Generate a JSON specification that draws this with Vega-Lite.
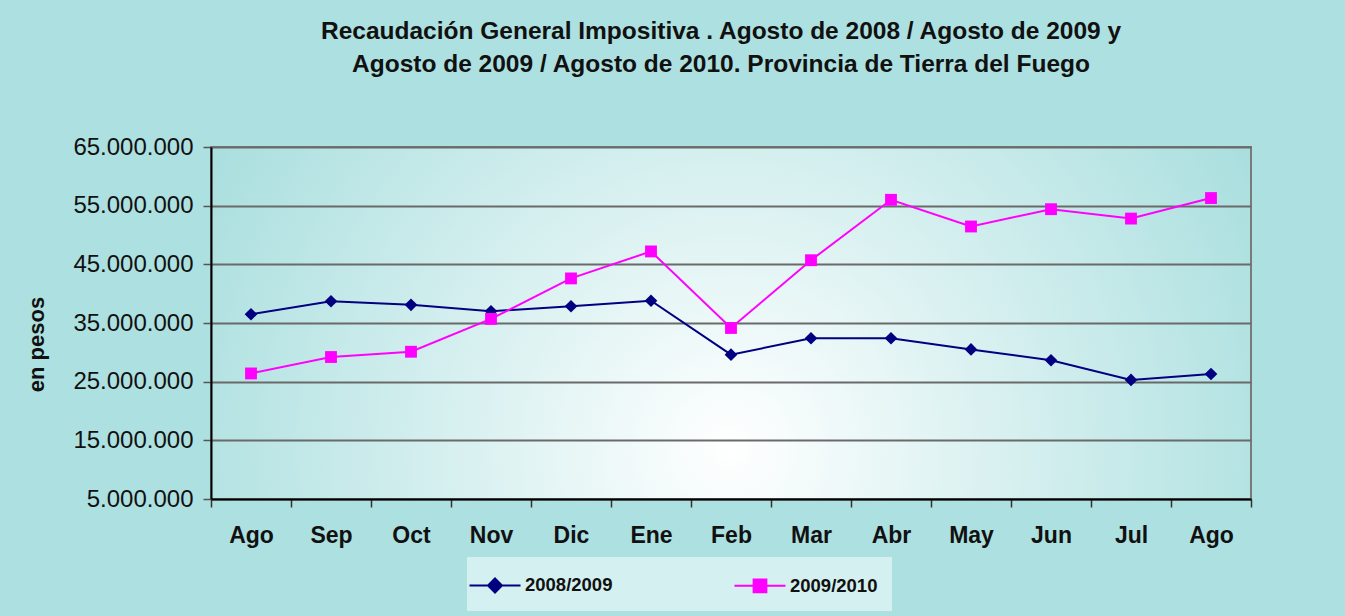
{
  "$schema": "https://vega.github.io/schema/vega-lite/v6.json",
  "autosize": "none",
  "width": 1040,
  "height": 352,
  "padding": {"left": 211, "top": 147, "right": 94, "bottom": 117},
  "background": "#ade0e0",
  "view": {
    "stroke": "#7a7a7a",
    "strokeWidth": 2,
    "fill": {
      "gradient": "radial",
      "x1": 0.5, "y1": 0.62, "r1": 0,
      "x2": 0.5, "y2": 0.62, "r2": 0.62,
      "stops": [
        {"offset": 0, "color": "#ffffff"},
        {"offset": 1, "color": "#a3dcdc"}
      ]
    }
  },
  "title": {
    "text": ["Recaudación General Impositiva . Agosto de 2008 / Agosto de 2009  y", "Agosto de 2009 / Agosto de 2010. Provincia de Tierra del Fuego"],
    "font": "Liberation Sans",
    "fontSize": 24.5,
    "fontWeight": "bold",
    "color": "#111111",
    "lineHeight": 33,
    "anchor": "middle",
    "dx": -10,
    "offset": 58
  },
  "data": {
    "values": [
      {"mes": "01-Ago", "serie": "2008/2009", "valor": 36500000},
      {"mes": "02-Sep", "serie": "2008/2009", "valor": 38700000},
      {"mes": "03-Oct", "serie": "2008/2009", "valor": 38100000},
      {"mes": "04-Nov", "serie": "2008/2009", "valor": 37000000},
      {"mes": "05-Dic", "serie": "2008/2009", "valor": 37850000},
      {"mes": "06-Ene", "serie": "2008/2009", "valor": 38800000},
      {"mes": "07-Feb", "serie": "2008/2009", "valor": 29600000},
      {"mes": "08-Mar", "serie": "2008/2009", "valor": 32400000},
      {"mes": "09-Abr", "serie": "2008/2009", "valor": 32400000},
      {"mes": "10-May", "serie": "2008/2009", "valor": 30500000},
      {"mes": "11-Jun", "serie": "2008/2009", "valor": 28650000},
      {"mes": "12-Jul", "serie": "2008/2009", "valor": 25300000},
      {"mes": "13-Ago", "serie": "2008/2009", "valor": 26300000},
      {"mes": "01-Ago", "serie": "2009/2010", "valor": 26400000},
      {"mes": "02-Sep", "serie": "2009/2010", "valor": 29200000},
      {"mes": "03-Oct", "serie": "2009/2010", "valor": 30100000},
      {"mes": "04-Nov", "serie": "2009/2010", "valor": 35700000},
      {"mes": "05-Dic", "serie": "2009/2010", "valor": 42600000},
      {"mes": "06-Ene", "serie": "2009/2010", "valor": 47200000},
      {"mes": "07-Feb", "serie": "2009/2010", "valor": 34150000},
      {"mes": "08-Mar", "serie": "2009/2010", "valor": 45700000},
      {"mes": "09-Abr", "serie": "2009/2010", "valor": 56000000},
      {"mes": "10-May", "serie": "2009/2010", "valor": 51450000},
      {"mes": "11-Jun", "serie": "2009/2010", "valor": 54400000},
      {"mes": "12-Jul", "serie": "2009/2010", "valor": 52800000},
      {"mes": "13-Ago", "serie": "2009/2010", "valor": 56300000}
    ]
  },
  "encoding": {
    "x": {
      "field": "mes",
      "type": "ordinal",
      "bandPosition": 0.5,
      "scale": {"type": "band", "paddingInner": 0, "paddingOuter": 0},
      "axis": {
        "title": null,
        "labelAngle": 0,
        "labelExpr": "split(datum.value, '-')[1]",
        "labelFont": "Liberation Sans",
        "labelFontSize": 23,
        "labelFontWeight": "bold",
        "labelColor": "#111111",
        "labelPadding": 17,
        "tickBand": "extent",
        "tickSize": 8,
        "tickColor": "#333333",
        "tickWidth": 1.5,
        "domainColor": "#000000",
        "domainWidth": 2,
        "grid": false
      }
    },
    "y": {
      "field": "valor",
      "type": "quantitative",
      "scale": {"domain": [5000000, 65000000], "nice": false, "zero": false},
      "axis": {
        "title": "en pesos",
        "titleFont": "Liberation Sans",
        "titleFontSize": 22,
        "titleFontWeight": "bold",
        "titleColor": "#111111",
        "titlePadding": 24,
        "titleY": 197,
        "values": [5000000, 15000000, 25000000, 35000000, 45000000, 55000000, 65000000],
        "labelExpr": "replace(replace(format(datum.value, ','), ',', '.'), ',', '.')",
        "labelFont": "Liberation Sans",
        "labelFontSize": 24,
        "labelColor": "#111111",
        "labelPadding": 10,
        "tickSize": 8,
        "tickColor": "#555555",
        "tickWidth": 1.5,
        "domainColor": "#000000",
        "domainWidth": 2,
        "grid": true,
        "gridColor": "#6a6a6a",
        "gridWidth": 2
      }
    },
    "color": {
      "field": "serie",
      "type": "nominal",
      "scale": {"domain": ["2008/2009", "2009/2010"], "range": ["#000080", "#ff00ff"]},
      "legend": {
        "title": null,
        "orient": "none",
        "direction": "horizontal",
        "legendX": 256,
        "legendY": 410,
        "fillColor": "#d4f0f0",
        "padding": 14,
        "columnPadding": 117,
        "labelFont": "Liberation Sans",
        "labelFontSize": 18.5,
        "labelFontWeight": "bold",
        "labelColor": "#111111",
        "labelOffset": 16,
        "symbolSize": 650,
        "symbolStrokeWidth": 2,
        "symbolOpacity": 1,
        "symbolType": {"expr": "datum.value === '2008/2009' ? 'M-2,0L2,0M0,-0.55L0.55,0L0,0.55L-0.55,0Z' : 'M-2,0L2,0M-0.5,-0.5L0.5,-0.5L0.5,0.5L-0.5,0.5Z'"},
        "symbolStrokeColor": {"expr": "datum.value === '2008/2009' ? '#000080' : '#ff00ff'"},
        "symbolFillColor": {"expr": "datum.value === '2008/2009' ? '#000080' : '#ff00ff'"}
      }
    }
  },
  "layer": [
    {"mark": {"type": "line", "strokeWidth": 2}},
    {
      "transform": [{"filter": {"field": "serie", "equal": "2008/2009"}}],
      "mark": {"type": "point", "filled": true, "opacity": 1, "shape": "diamond", "size": 160}
    },
    {
      "transform": [{"filter": {"field": "serie", "equal": "2009/2010"}}],
      "mark": {"type": "point", "filled": true, "opacity": 1, "shape": "square", "size": 140}
    }
  ]
}
